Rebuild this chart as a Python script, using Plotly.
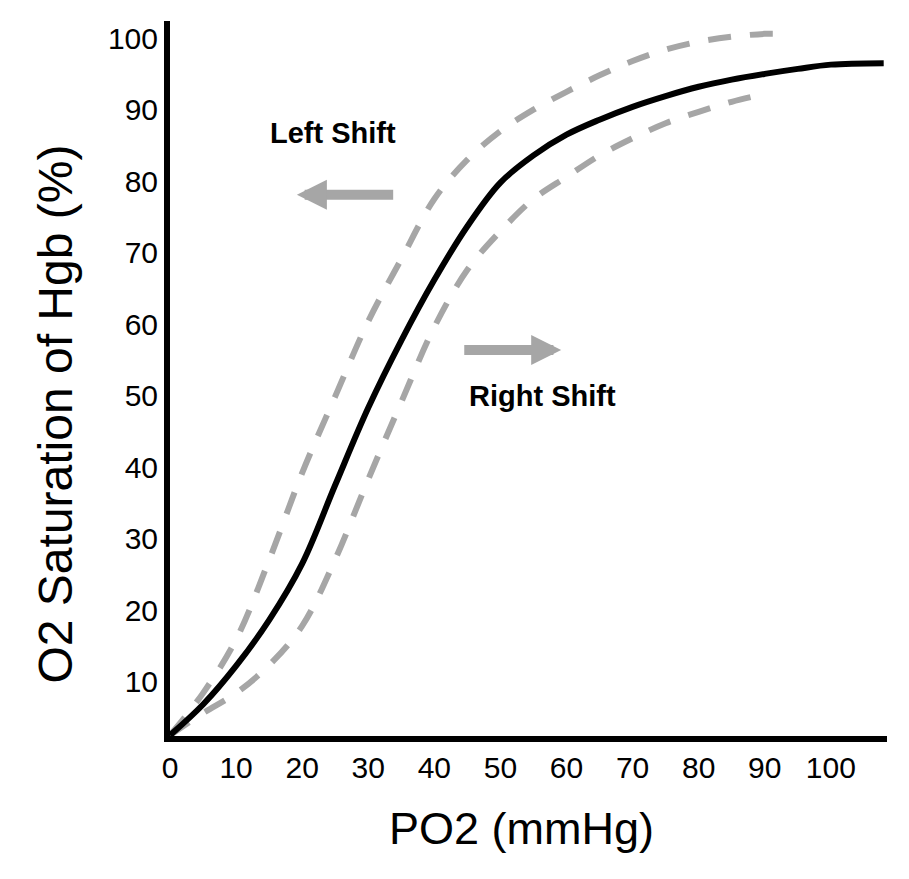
import plotly.graph_objects as go

# PO2 values (mmHg) and O2 saturation (%)
po2_normal = [0, 5, 10, 15, 20, 25, 30, 35, 40, 45, 50, 55, 60, 65, 70, 75, 80, 85, 90, 95, 100, 108]
sat_normal = [2.5, 6.8, 12.2, 18.6, 26.5, 37.5, 48.3, 57.7, 66.2, 73.7, 79.8, 83.6, 86.5, 88.6, 90.4, 91.9, 93.2, 94.2, 95.0, 95.7, 96.3, 96.5]

po2_left = [0, 5, 10, 15, 20, 25, 30, 35, 40, 45, 50, 55, 60, 65, 70, 75, 80, 85, 90, 92.5]
sat_left = [2.5, 8.4, 15.9, 27.0, 39.2, 49.9, 60.4, 69.1, 77.5, 83.0, 87.0, 90.0, 92.5, 94.8, 96.8, 98.4, 99.5, 100.2, 100.6, 100.6]

po2_right = [0, 5, 10, 15, 20, 25, 30, 35, 40, 45, 50, 55, 60, 65, 70, 75, 80, 85, 90]
sat_right = [2.5, 5.6, 8.4, 12.3, 17.8, 27.1, 38.3, 49.1, 59.6, 67.6, 73.0, 77.5, 80.6, 83.6, 86.0, 88.1, 89.7, 91.1, 92.2]

x_ticks = [0, 10, 20, 30, 40, 50, 60, 70, 80, 90, 100]
y_ticks = [10, 20, 30, 40, 50, 60, 70, 80, 90, 100]

font = "Liberation Sans, Arial, Helvetica, sans-serif"
gray = "#a6a6a6"

fig = go.Figure()
fig.add_trace(go.Scatter(x=po2_left, y=sat_left, mode="lines",
                         line=dict(color=gray, width=6, dash="23px,19px", shape="spline")))
fig.add_trace(go.Scatter(x=po2_right, y=sat_right, mode="lines",
                         line=dict(color=gray, width=6, dash="23px,19px", shape="spline")))
fig.add_trace(go.Scatter(x=po2_normal, y=sat_normal, mode="lines",
                         line=dict(color="black", width=6, shape="spline")))

# shift labels and arrows
fig.add_annotation(x=24.7, y=86.8, text="Left Shift", showarrow=False,
                   font=dict(family=font, size=29, color="black", weight="bold"))
fig.add_annotation(x=56.3, y=49.9, text="Right Shift", showarrow=False,
                   font=dict(family=font, size=29, color="black", weight="bold"))
fig.add_annotation(x=19.2, y=78.1, ax=34.0, ay=78.1, axref="x", ayref="y", text="",
                   showarrow=True, arrowhead=2, arrowsize=0.6, arrowwidth=10, arrowcolor=gray)
fig.add_annotation(x=59.2, y=56.4, ax=44.3, ay=56.4, axref="x", ayref="y", text="",
                   showarrow=True, arrowhead=2, arrowsize=0.6, arrowwidth=10, arrowcolor=gray)

# axis titles
fig.add_annotation(xref="paper", yref="paper", x=0.49, y=-0.13, text="PO2 (mmHg)",
                   showarrow=False, xanchor="center", yanchor="middle",
                   font=dict(family=font, size=45, color="black"))
fig.add_annotation(xref="paper", yref="paper", x=-0.16, y=0.45, text="O2 Saturation of Hgb (%)",
                   showarrow=False, textangle=-90, xanchor="center", yanchor="middle",
                   font=dict(family=font, size=48, color="black"))

fig.update_xaxes(range=[0, 108.5], tickvals=x_ticks, showgrid=False, zeroline=False,
                 showline=True, linewidth=6, linecolor="black",
                 tickfont=dict(family=font, size=30, color="black"))
fig.update_yaxes(range=[2.4, 102.4], tickvals=y_ticks, showgrid=False, zeroline=False,
                 showline=True, linewidth=6, linecolor="black",
                 tickfont=dict(family=font, size=30, color="black"))

# the page body adds an 8px margin, so the figure is 8px smaller each way
fig.update_layout(width=901, height=871, showlegend=False,
                  margin=dict(l=162, r=22, t=13, b=143),
                  plot_bgcolor="white", paper_bgcolor="white")

fig.write_html("out.html")
